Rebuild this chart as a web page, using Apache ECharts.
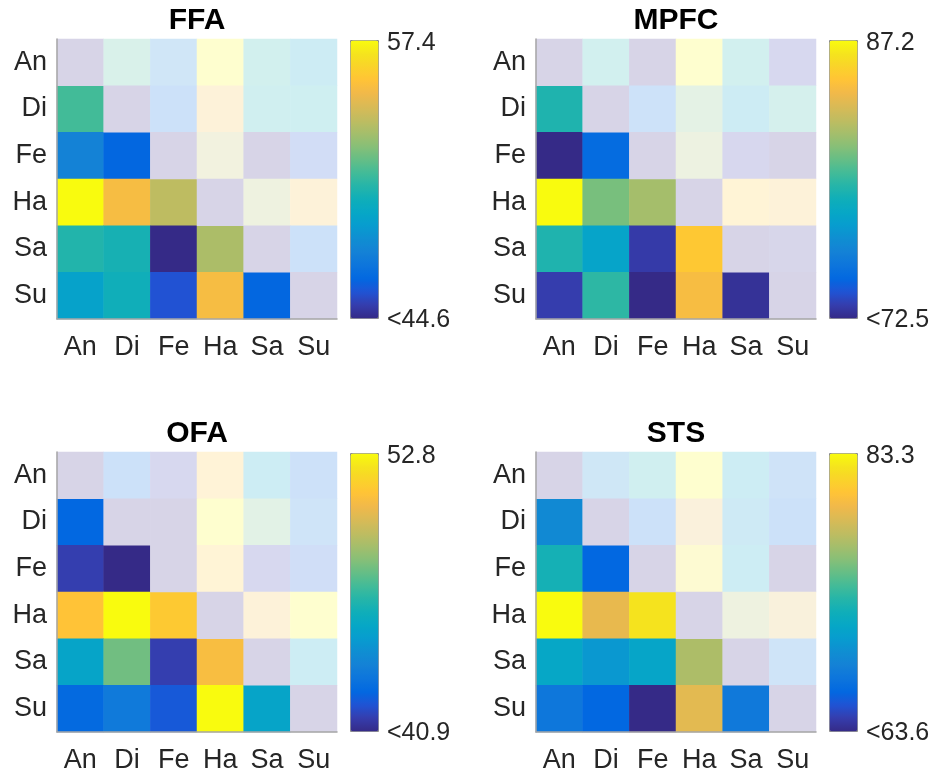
<!DOCTYPE html>
<html>
<head>
<meta charset="utf-8">
<script src="https://cdn.jsdelivr.net/npm/echarts@6/dist/echarts.min.js"></script>
<style>
  html, body { margin: 0; padding: 0; background: #fff; }
  #chart { width: 934px; height: 775px; }
</style>
</head>
<body>
<div id="chart"></div>
<script>
// ---------------- data ----------------
const categories = ['An', 'Di', 'Fe', 'Ha', 'Sa', 'Su'];
const regionNames = ['FFA', 'MPFC', 'OFA', 'STS'];

// colour-scale limits per region [min, max]
const ffaRange  = [44.6, 57.4];
const mpfcRange = [72.5, 87.2];
const ofaRange  = [40.9, 52.8];
const stsRange  = [63.6, 83.3];

// lower-triangular dissimilarity matrices (row i, columns 0..i); diagonal 0 (self)
const ffaValues = [
  [0],
  [51.3, 0],
  [47.7, 46.4, 0],
  [57.4, 55.2, 53.7, 0],
  [50.6, 50.3, 44.6, 53.3, 0],
  [49.2, 50.1, 45.8, 55.2, 46.4, 0]
];
const mpfcValues = [
  [0],
  [79.3, 0],
  [72.5, 74.8, 0],
  [87.2, 81.3, 82.3, 0],
  [79.3, 77.9, 73.1, 85.3, 0],
  [73.2, 79.7, 72.5, 84.7, 72.8, 0]
];
const ofaValues = [
  [0],
  [42.6, 0],
  [41.5, 40.9, 0],
  [51.1, 52.8, 51.3, 0],
  [45.3, 47.9, 41.5, 50.8, 0],
  [42.7, 43.4, 42.2, 52.8, 45.3, 0]
];
const stsValues = [
  [0],
  [68.9, 0],
  [72.3, 66.4, 0],
  [83.3, 79.2, 82.3, 0],
  [71.1, 69.9, 70.9, 77.0, 0],
  [67.5, 66.4, 63.6, 79.0, 67.7, 0]
];

// ---------------- styles ----------------
const parula = ['#352a87','#353dad','#2053d4','#0268e1','#0d75dc','#1481d6','#108ed2','#079ccf',
  '#06a7c6','#0faeb9','#25b5a9','#42bb98','#65be86','#87bf77','#a5be6b','#c0bc60','#d9ba56',
  '#f1b94a','#ffc337','#fad32a','#f5e41d','#f9fb0e'];
const FADE = 0.2; // upper triangle drawn at 20% strength over white
const parulaFaded = parula.map(h => {
  const n = parseInt(h.slice(1), 16);
  const c = [(n >> 16) & 255, (n >> 8) & 255, n & 255].map(v => Math.round(v * FADE + 255 * (1 - FADE)));
  return 'rgb(' + c.join(',') + ')';
});
const FONT = '"Liberation Sans", Arial, Helvetica, sans-serif';
const TXT = '#262626';

const panels = [
  { name: regionNames[0], values: ffaValues,  range: ffaRange,  gx: 57,  gy: 39 },
  { name: regionNames[1], values: mpfcValues, range: mpfcRange, gx: 536, gy: 39 },
  { name: regionNames[2], values: ofaValues,  range: ofaRange,  gx: 57,  gy: 452 },
  { name: regionNames[3], values: stsValues,  range: stsRange,  gx: 536, gy: 452 }
];
const SIZE = 280;

const grid = [], xAxis = [], yAxis = [], series = [], visualMap = [], graphic = [];

panels.forEach((p, k) => {
  const [mn, mx] = p.range;
  const clamp = v => Math.min(mx, Math.max(mn, v));
  const lower = [], upper = [];
  for (let i = 0; i < 6; i++) {
    for (let j = 0; j < 6; j++) {
      if (i > j) lower.push([j, i, clamp(p.values[i][j])]);
      else if (i < j) upper.push([j, i, clamp(p.values[j][i])]);
      else upper.push([j, i, clamp(p.values[i][i])]);
    }
  }
  grid.push({ left: p.gx, top: p.gy, width: SIZE, height: SIZE, containLabel: false });
  xAxis.push({
    type: 'category', gridIndex: k, data: categories, position: 'bottom', z: 5,
    axisLine: { show: true, lineStyle: { color: '#a6a6a6', width: 1.5 } },
    axisTick: { show: false },
    axisLabel: { color: TXT, fontSize: 27, fontFamily: FONT, margin: 15 },
    splitArea: { show: false }, splitLine: { show: false }
  });
  yAxis.push({
    type: 'category', gridIndex: k, data: categories, inverse: true, z: 5,
    axisLine: { show: true, lineStyle: { color: '#a6a6a6', width: 1.5 } },
    axisTick: { show: false },
    axisLabel: { color: TXT, fontSize: 27, fontFamily: FONT, margin: 10 },
    splitArea: { show: false }, splitLine: { show: false }
  });
  series.push({
    type: 'heatmap', xAxisIndex: k, yAxisIndex: k, data: lower,
    emphasis: { disabled: true }, progressive: 0
  });
  series.push({
    type: 'heatmap', xAxisIndex: k, yAxisIndex: k, data: upper,
    emphasis: { disabled: true }, progressive: 0
  });
  const cbx = p.gx + 293, cby = p.gy + 1;
  visualMap.push({
    type: 'continuous', seriesIndex: 2 * k, min: mn, max: mx,
    calculable: false, realtime: false, hoverLink: false,
    orient: 'vertical', left: cbx, top: cby, itemWidth: 28, itemHeight: 278,
    padding: 0, borderWidth: 1, borderColor: '#8c8c8c',
    inRange: { color: parula }, text: null
  });
  visualMap.push({
    type: 'continuous', seriesIndex: 2 * k + 1, min: mn, max: mx, show: false,
    inRange: { color: parulaFaded }
  });
  graphic.push({
    type: 'text', x: p.gx + SIZE / 2, y: p.gy - 18,
    style: { text: p.name, fill: '#000', font: 'bold 30px ' + FONT, textAlign: 'center', textVerticalAlign: 'middle' }
  });
  graphic.push({
    type: 'text', x: cbx + 37, y: cby + 3,
    style: { text: String(mx.toFixed(1)), fill: TXT, font: '25px ' + FONT, textAlign: 'left', textVerticalAlign: 'middle' }
  });
  graphic.push({
    type: 'text', x: cbx + 37, y: cby + 280,
    style: { text: '<' + mn.toFixed(1), fill: TXT, font: '25px ' + FONT, textAlign: 'left', textVerticalAlign: 'middle' }
  });
});

const chart = echarts.init(document.getElementById('chart'), null, { renderer: 'canvas' });
chart.setOption({
  animation: false,
  backgroundColor: '#fff',
  grid, xAxis, yAxis, series, visualMap, graphic
});
</script>
</body>
</html>
